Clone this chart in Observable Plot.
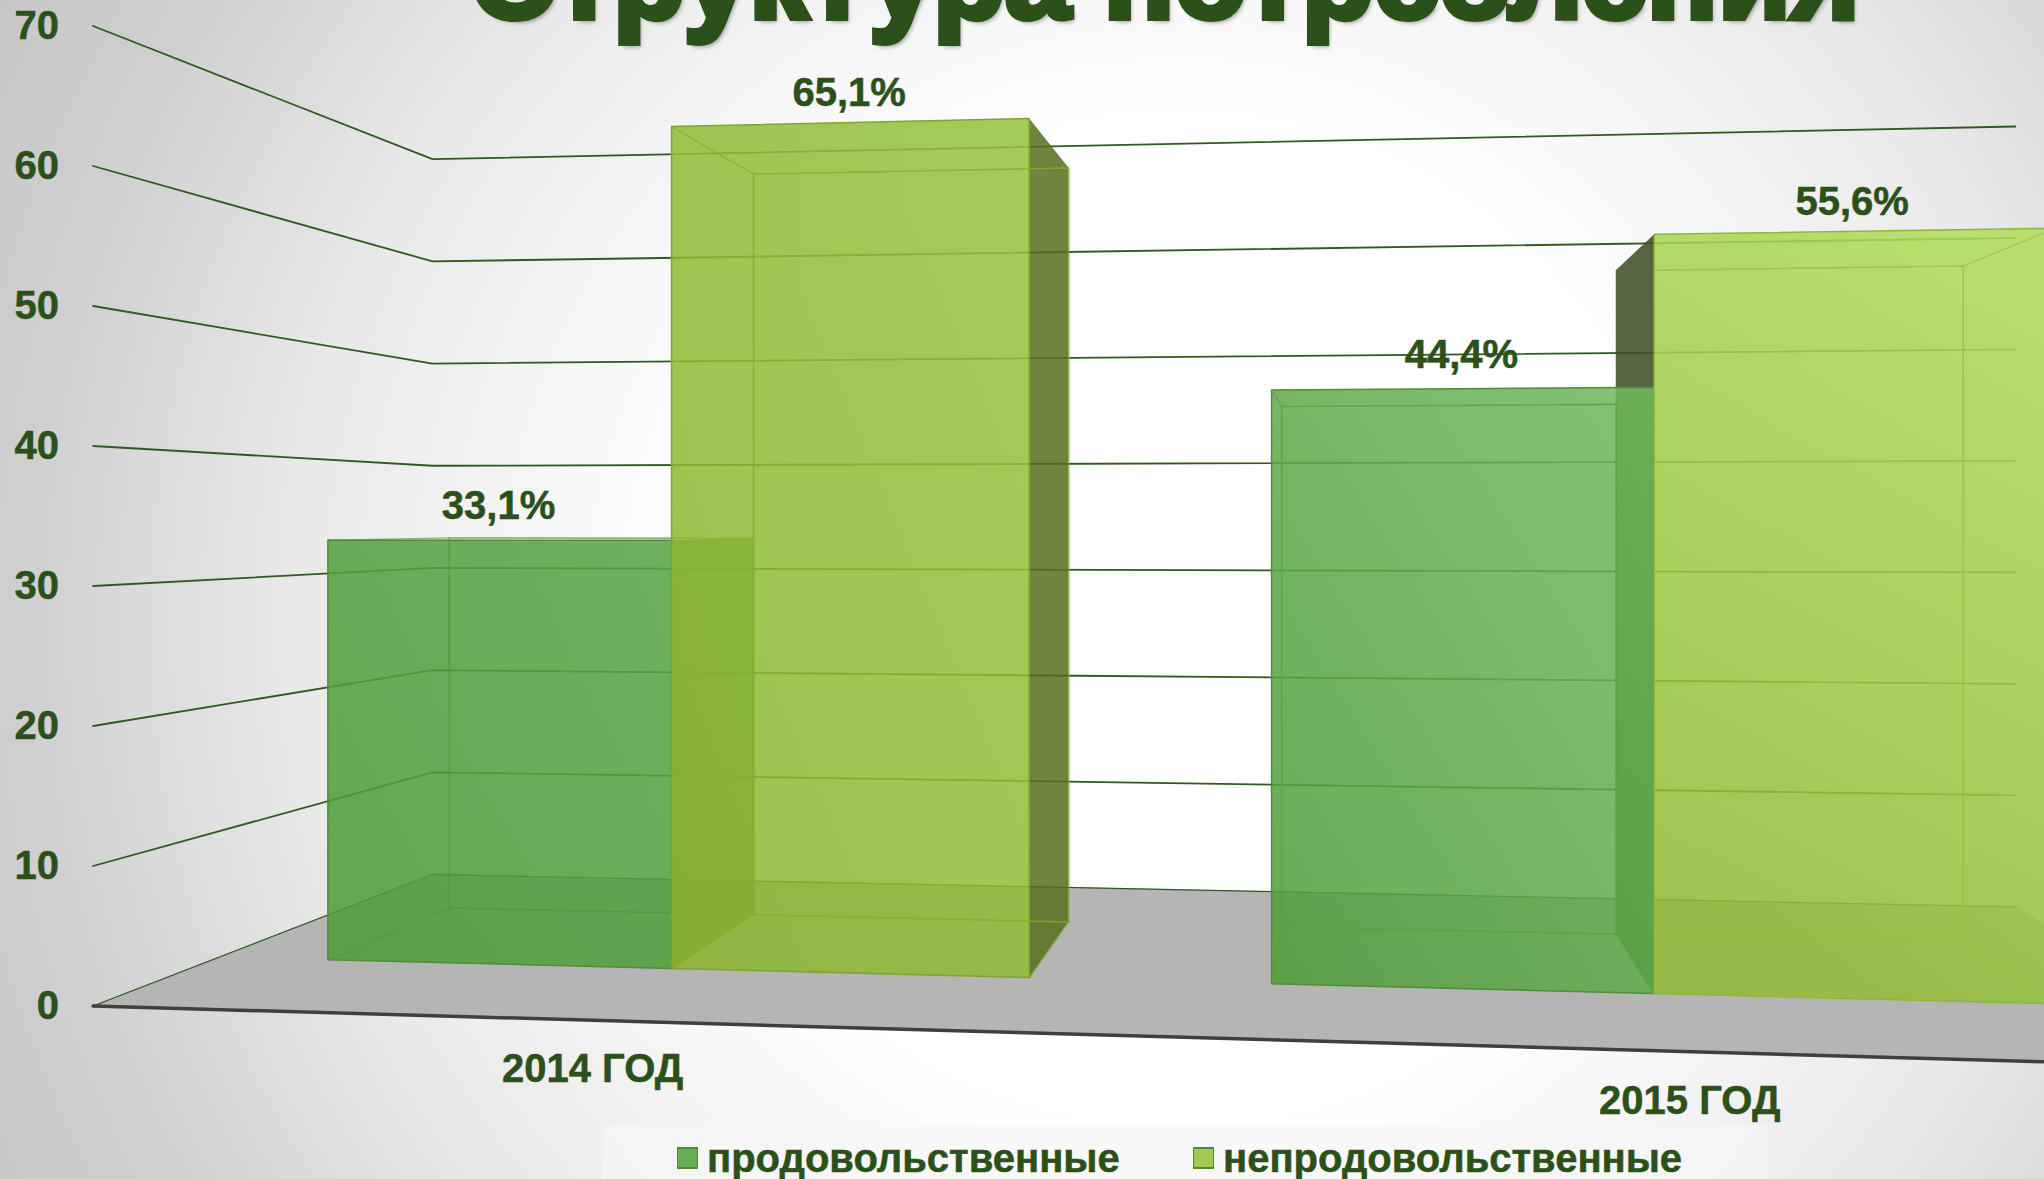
<!DOCTYPE html>
<html lang="ru">
<head>
<meta charset="utf-8">
<title>Структура потребления</title>
<script src="https://cdn.jsdelivr.net/npm/d3@7"></script>
<script src="https://cdn.jsdelivr.net/npm/@observablehq/plot@0.6"></script>
<style>
  html, body { margin: 0; padding: 0; width: 2044px; height: 1179px; overflow: hidden; }
  body {
    position: relative;
    font-family: "Liberation Sans", Arial, sans-serif;
    background: radial-gradient(circle 1400px at 1180px 620px, #fff 0, #fff 500px, #e8e8e8 900px, #d0d0d0 1150px, #c4c4c4 1400px);
  }
  #chart { position: absolute; left: 0; top: 0; }
  #chart svg { display: block; background: transparent; }
  h1 {
    position: absolute; left: 470px; top: -82px; margin: 0; white-space: nowrap;
    font: bold 118px/118px "Liberation Sans", Arial, sans-serif; color: #2b5019;
    -webkit-text-stroke: 6px #2b5019;
    text-shadow: 3px 4px 4px rgba(0,0,0,.35);
  }
  #legend {
    position: absolute; left: 603px; top: 1126px; width: 1165px; height: 53px;
    background: rgba(246,246,246,.7);
  }
  #legend span.key { position: absolute; top: 21px; width: 19px; height: 18px; border: 1px solid #4f8a30; border-width: 2px 1px; }
  #legend span.label {
    position: absolute; top: 12px; font: bold 40px/40px "Liberation Sans", Arial, sans-serif;
    color: #2b5019; white-space: nowrap; -webkit-text-stroke: .5px #2b5019;
  }
</style>
</head>
<body>
<h1 id="title"></h1>
<div id="chart"></div>
<div id="legend"></div>
<script>
// --- data ---
const titleText = "Структура потребления";
const categories = ["2014 ГОД", "2015 ГОД"];
const seriesNames = ["продовольственные", "непродовольственные"];
const food = [33.1, 44.4];
const nonFood = [65.1, 55.6];
const yTicks = [0, 10, 20, 30, 40, 50, 60, 70];

// --- the chart's oblique camera: (band u, depth w, value v) -> picture ---
function P(u, w, v = 0) {
  const D = 1 - 0.1143 * u + 0.37 * w;
  return [(1938.2 * u + 499.24 * w + 92.6) / D, (-59.2 * u + 191.9 * w + 1005.5 - 14 * v) / D];
}
// the band position that lands on picture column x at depth w
const uAtX = (x, w) => (x * (1 + 0.37 * w) - 499.24 * w - 92.6) / (1938.2 + 0.1143 * x);

const WF = 0.3, WB = 0.7, GAP = 0.0617, BW = 0.1883;
const ink = "#2b5019";
const fmt = (v) => v.toFixed(1).replace(".", ",") + "%";

const face = (a, b, c, d, o) =>
  Plot.area(
    [{x1: a[0], y1: a[1], x2: d[0], y2: d[1]}, {x1: b[0], y1: b[1], x2: c[0], y2: c[1]}],
    {x1: "x1", y1: "y1", x2: "x2", y2: "y2", ...o}
  );
const seg = (pts, o) => Plot.line(pts, {x: (d) => d[0], y: (d) => d[1], ...o});

const barStyles = [
  [{front: "url(#g1)", side: "#4d7f2a", edge: "#4c8f35", inner: "#4f9a3a"},
   {front: "url(#g2)", side: "#55701f", edge: "#7ea62e", inner: "#86ad30"}],
  [{front: "url(#g3)", side: "#3a7414", edge: "#4c8f35", inner: "#5aa040"},
   {front: "url(#g4)", side: "#3f4f24", edge: "#8fb83a", inner: "#96c03c"}]
];

const bars = [];
categories.forEach((c, i) => {
  [food[i], nonFood[i]].forEach((v, j) => {
    const u0 = i * 0.5 + GAP + j * BW, u1 = u0 + BW;
    const sideU = P(u0, WB)[0] < P(u0, WF)[0] ? u0 : u1;
    bars.push({i, j, v, u0, u1, sideU, s: barStyles[i][j]});
  });
});

function barMarks(b, withSide = true) {
  const {v, u0, u1, sideU, s} = b;
  const out = [];
  if (withSide) out.push(face(P(sideU, WB, v), P(sideU, WF, v), P(sideU, WF), P(sideU, WB), {fill: s.side, fillOpacity: 0.85}));
  out.push(face(P(u0, WF, v), P(u1, WF, v), P(u1, WF), P(u0, WF), {fill: s.front, fillOpacity: 0.86, stroke: s.edge, strokeWidth: 1.5}));
  // back box outline and the corner edges seen through the front
  const lineO = {stroke: s.inner, strokeWidth: 1.5, strokeOpacity: 0.8};
  if (sideU === u0) {
    const us = uAtX(P(u0, WF)[0], WB);
    out.push(seg([P(us, WB, v), P(u1, WB, v), P(u1, WB), P(us, WB)], lineO));
  } else {
    out.push(seg([P(u0, WB, v), P(u1, WB, v), P(u1, WB), P(u0, WB), P(u0, WB, v)], lineO));
  }
  const bottoms = sideU === u0 ? [u1] : [u0, u1];
  const tops = [u0, u1].filter((u) => u !== sideU);
  for (const [a, bb] of [...bottoms.map((u) => [P(u, WF), P(u, WB)]), ...tops.map((u) => [P(u, WF, v), P(u, WB, v)])])
    out.push(seg([a, bb], {stroke: s.inner, strokeWidth: 1.2, strokeOpacity: 0.7}));
  return out;
}

const defs = () => {
  const ns = "http://www.w3.org/2000/svg";
  const d = document.createElementNS(ns, "defs");
  const grads = {
    g1: [[0, 1, 1, 0], ["#4f9b39", "#58a346"]],
    g2: [[0, 1, 1, 0], ["#8ab52f", "#96c43f"]],
    g3: [[0, 1, 1, 0], ["#509b3a", "#73b85f"]],
    g4: [[0.3, 1, 0.7, 0], ["#8fba35", "#afdd59"]]
  };
  for (const [id, [[x1, y1, x2, y2], [c0, c1]]] of Object.entries(grads)) {
    const g = document.createElementNS(ns, "linearGradient");
    g.setAttribute("id", id);
    g.setAttribute("x1", x1); g.setAttribute("y1", y1); g.setAttribute("x2", x2); g.setAttribute("y2", y2);
    [[0, c0], [1, c1]].forEach(([o, c]) => {
      const st = document.createElementNS(ns, "stop");
      st.setAttribute("offset", o); st.setAttribute("stop-color", c);
      g.appendChild(st);
    });
    d.appendChild(g);
  }
  return d;
};

const [b1, b2, b3, b4] = bars;
const labelRows = bars.map((b) => {
  const [x, y] = P((b.u0 + b.u1) / 2, WF, b.v);
  return {x, y, t: fmt(b.v), j: b.j};
});
const textBase = {fontFamily: "Liberation Sans", fontWeight: "bold", fill: ink, stroke: ink, strokeWidth: 0.5, fontSize: 40};

const plot = Plot.plot({
  width: 2044, height: 1179,
  margin: 0,
  style: {background: "transparent"},
  x: {type: "identity", axis: null},
  y: {type: "identity", axis: null},
  marks: [
    defs,
    // floor
    face(P(0, 0), P(1, 0), P(1, 1), P(0, 1), {fill: "#b5b5b5"}),
    // gridlines on the side and back walls
    ...yTicks.map((v) => seg([P(0, 0, v), P(0, 1, v), P(1, 1, v)], {stroke: "#2f5a20", strokeWidth: v === 0 ? 1.3 : 1.8})),
    seg([P(0, 0), P(1, 0)], {stroke: "#3f3f3f", strokeWidth: 3.5}),
    // side of the far bar shows behind the nearer one
    face(P(b4.sideU, WB, b4.v), P(b4.sideU, WF, b4.v), P(b4.sideU, WF), P(b4.sideU, WB), {fill: b4.s.side, fillOpacity: 0.88}),
    ...barMarks(b1), ...barMarks(b2), ...barMarks(b3), ...barMarks(b4, false),
    // tick labels
    Plot.text(yTicks, {x: (v) => P(0, 0, v)[0], y: (v) => P(0, 0, v)[1], text: (v) => String(v), textAnchor: "end", dx: -34, dy: 0, ...textBase}),
    // category labels
    Plot.text(categories, {x: (c, i) => P(i * 0.5 + 0.25, 0)[0], y: (c, i) => P(i * 0.5 + 0.25, 0)[1], text: (c) => c, dy: 49, dx: -2, ...textBase}),
    // value labels
    Plot.text(labelRows.filter((d) => d.j === 0), {x: "x", y: "y", text: "t", dy: -34, ...textBase}),
    Plot.text(labelRows.filter((d) => d.j === 1), {x: "x", y: "y", text: "t", dy: -30, ...textBase})
  ]
});
document.getElementById("chart").appendChild(plot);
document.getElementById("title").textContent = titleText;

const legend = document.getElementById("legend");
const keyColors = ["#6aab55", "#9fc94f"];
const keyLeft = [74, 590], labelLeft = [104, 620];
seriesNames.forEach((n, i) => {
  const k = document.createElement("span");
  k.className = "key"; k.style.left = keyLeft[i] + "px"; k.style.background = keyColors[i];
  const l = document.createElement("span");
  l.className = "label"; l.style.left = labelLeft[i] + "px"; l.textContent = n;
  legend.append(k, l);
});
</script>
</body>
</html>
